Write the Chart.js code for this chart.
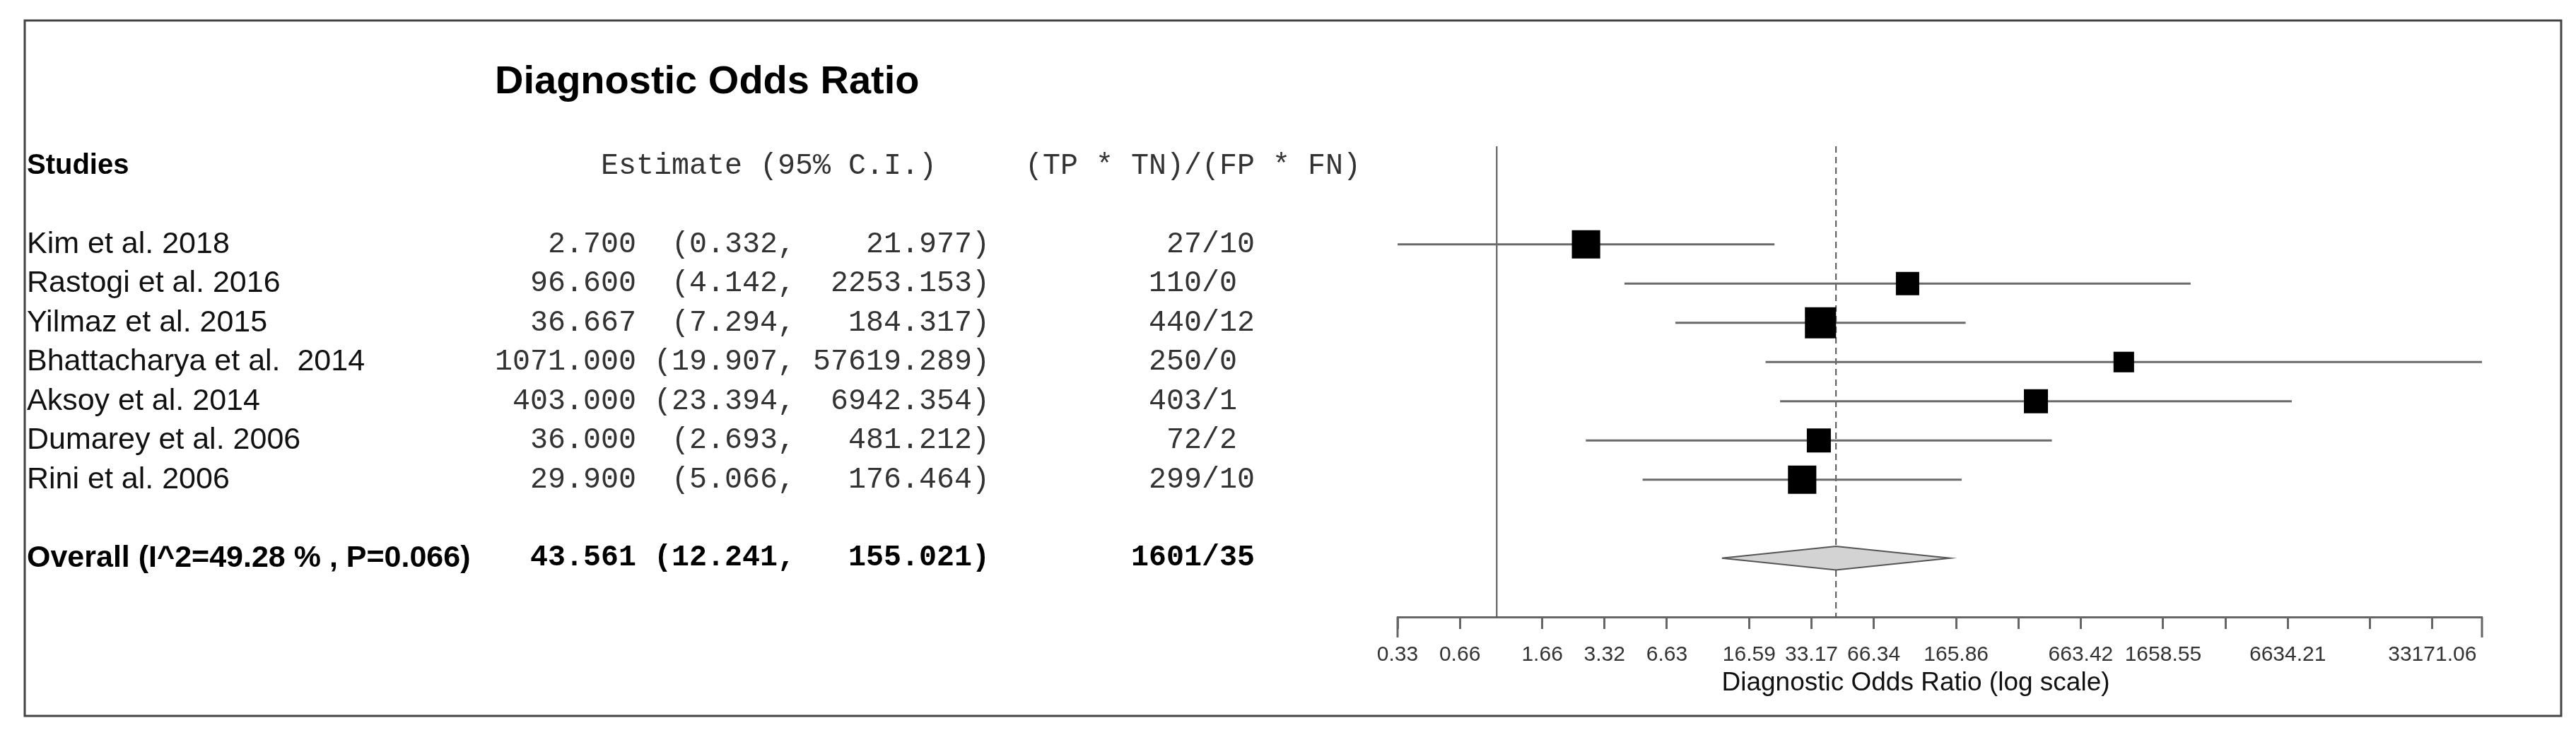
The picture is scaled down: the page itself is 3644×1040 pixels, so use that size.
<!DOCTYPE html>
<html>
<head>
<meta charset="utf-8">
<script src="https://cdn.jsdelivr.net/npm/chart.js@4.4.1/dist/chart.umd.min.js"></script>
<style>
  html, body { margin: 0; padding: 0; background: #fff; }
  canvas { display: block; }
</style>
</head>
<body>
<canvas id="forest" width="3644" height="1040"></canvas>
<script>
// values
const studies = ['Kim et al. 2018', 'Rastogi et al. 2016', 'Yilmaz et al. 2015', 'Bhattacharya et al.  2014',
                 'Aksoy et al. 2014', 'Dumarey et al. 2006', 'Rini et al. 2006'];
const estimates = [2.7, 96.6, 36.667, 1071, 403, 36, 29.9];
const lower = [0.332, 4.142, 7.294, 19.907, 23.394, 2.693, 5.066];
const upper = [21.977, 2253.153, 184.317, 57619.289, 6942.354, 481.212, 176.464];
const tpTn = [27, 110, 440, 250, 403, 72, 299];   // (TP * TN)
const fpFn = [10, 0, 12, 0, 1, 2, 10];            // (FP * FN)
const weights = [17.1, 11.6, 20.6, 9.0, 12.3, 12.3, 17.1]; // % weight

const overallLabel = 'Overall (I^2=49.28 % , P=0.066)';
const overallEstimate = 43.561;
const overallLower = 12.241;
const overallUpper = 155.021;
const overallTpTn = 1601;
const overallFpFn = 35;

const tickValues = [0.33171, 0.66342, 1.65855, 3.31711, 6.63421, 16.5855, 33.1711, 66.3421, 165.855,
                    331.711, 663.421, 1658.55, 3317.11, 6634.21, 16585.5, 33171.06];
const tickLabels = ['0.33', '0.66', '1.66', '3.32', '6.63', '16.59', '33.17', '66.34', '165.86',
                    '', '663.42', '1658.55', '', '6634.21', '', '33171.06'];

const rows = studies.map((s, i) => i + 1);
const overallRow = studies.length + 2;
const yTop = -1.5, yBottom = overallRow + 1.5;

function estText(est, lo, hi) {
  return est.toFixed(3).padStart(8) + ' ' + ('(' + lo.toFixed(3)).padStart(7) + ', ' +
         (hi.toFixed(3) + ')').padStart(10);
}
function ratioText(n, d) {
  return String(n).padStart(12) + '/' + d;
}

const ciSets = rows.map((r, i) => ({
  type: 'line',
  data: [{x: lower[i], y: r}, {x: upper[i], y: r}],
  borderColor: '#6a6a6a',
  borderWidth: 3,
  pointRadius: 0,
  fill: false,
  order: 2
}));

const boxSet = {
  type: 'scatter',
  data: rows.map((r, i) => ({x: estimates[i], y: r})),
  pointStyle: 'rect',
  pointRadius: ctx => Math.sqrt(weights[ctx.dataIndex]) * 9.7 / Math.SQRT2,
  pointHoverRadius: ctx => Math.sqrt(weights[ctx.dataIndex]) * 9.7 / Math.SQRT2,
  backgroundColor: '#000',
  borderWidth: 0,
  order: 0
};

const diamondSet = {
  type: 'line',
  data: [
    {x: overallLower, y: overallRow},
    {x: overallEstimate, y: overallRow - 0.3},
    {x: overallUpper, y: overallRow},
    {x: overallEstimate, y: overallRow + 0.3},
    {x: overallLower, y: overallRow}
  ],
  borderColor: '#555',
  borderWidth: 2,
  backgroundColor: '#d3d3d3',
  fill: 'shape',
  pointRadius: 0,
  tension: 0,
  order: 1
};

const nullLine = {
  type: 'line',
  data: [{x: 1, y: yTop}, {x: 1, y: yBottom}],
  borderColor: '#555',
  borderWidth: 2,
  pointRadius: 0,
  fill: false,
  order: 3
};

const pooledLine = {
  type: 'line',
  data: [{x: overallEstimate, y: yTop}, {x: overallEstimate, y: yBottom}],
  borderColor: '#555',
  borderWidth: 2,
  borderDash: [9, 6],
  pointRadius: 0,
  fill: false,
  order: 3
};

// frame, title, study table, axis title and the long end ticks of the axis
const tablePlugin = {
  id: 'tablePlugin',
  afterDraw(chart) {
    const ctx = chart.ctx;
    const y = chart.scales.y;
    const x = chart.scales.x;
    ctx.save();

    ctx.strokeStyle = '#444';
    ctx.lineWidth = 3;
    ctx.strokeRect(35, 29, 3588, 984);

    ctx.strokeStyle = '#666';
    ctx.lineWidth = 3;
    ctx.beginPath();
    [x.left, x.right].forEach(px => {
      ctx.moveTo(px, x.top);
      ctx.lineTo(px, x.top + 29);
    });
    ctx.stroke();

    ctx.textBaseline = 'middle';
    ctx.textAlign = 'center';
    ctx.fillStyle = '#111';
    ctx.font = "37px 'Liberation Sans'";
    ctx.fillText('Diagnostic Odds Ratio (log scale)', 2710, 967);

    ctx.textAlign = 'left';
    ctx.fillStyle = '#000';
    ctx.font = "bold 56px 'Liberation Sans'";
    ctx.fillText('Diagnostic Odds Ratio', 700, 117);

    const headY = y.getPixelForValue(-1);
    ctx.font = "bold 40px 'Liberation Sans'";
    ctx.fillText('Studies', 38, headY);
    ctx.fillStyle = '#333';
    ctx.font = "41.67px 'Liberation Mono'";
    ctx.fillText('      Estimate (95% C.I.)     (TP * TN)/(FP * FN)', 700, headY);

    rows.forEach((r, i) => {
      const py = y.getPixelForValue(r);
      ctx.fillStyle = '#111';
      ctx.font = "43px 'Liberation Sans'";
      ctx.fillText(studies[i], 38, py);
      ctx.fillStyle = '#333';
      ctx.font = "41.67px 'Liberation Mono'";
      ctx.fillText(estText(estimates[i], lower[i], upper[i]) + ratioText(tpTn[i], fpFn[i]), 700, py);
    });

    const oy = y.getPixelForValue(overallRow);
    ctx.fillStyle = '#000';
    ctx.font = "bold 43px 'Liberation Sans'";
    ctx.fillText(overallLabel, 38, oy);
    ctx.font = "bold 41.67px 'Liberation Mono'";
    ctx.fillText(estText(overallEstimate, overallLower, overallUpper) + ratioText(overallTpTn, overallFpFn), 700, oy);

    ctx.restore();
  }
};

new Chart(document.getElementById('forest'), {
  type: 'scatter',
  data: {
    datasets: [boxSet, diamondSet, ...ciSets, nullLine, pooledLine]
  },
  options: {
    responsive: false,
    devicePixelRatio: 1,
    animation: false,
    layout: {
      padding: {left: 1977, right: 133, top: 207, bottom: 0}
    },
    plugins: {
      legend: {display: false},
      tooltip: {enabled: false}
    },
    scales: {
      x: {
        type: 'logarithmic',
        bounds: 'data',
        min: tickValues[0],
        max: upper[3],
        afterBuildTicks: scale => {
          scale.ticks = tickValues.map(v => ({value: v}));
        },
        afterFit: scale => {
          scale.height = 167;
        },
        border: {display: true, color: '#666', width: 3},
        grid: {
          display: true,
          drawOnChartArea: false,
          drawTicks: true,
          tickLength: 17,
          tickWidth: 3,
          color: '#666'
        },
        ticks: {
          autoSkip: false,
          maxRotation: 0,
          padding: 19,
          color: '#333',
          font: {family: 'Liberation Sans', size: 30},
          callback: (val, i) => tickLabels[i]
        }
      },
      y: {
        type: 'linear',
        reverse: true,
        min: yTop,
        max: yBottom,
        display: false
      }
    }
  },
  plugins: [tablePlugin]
});
</script>
</body>
</html>
